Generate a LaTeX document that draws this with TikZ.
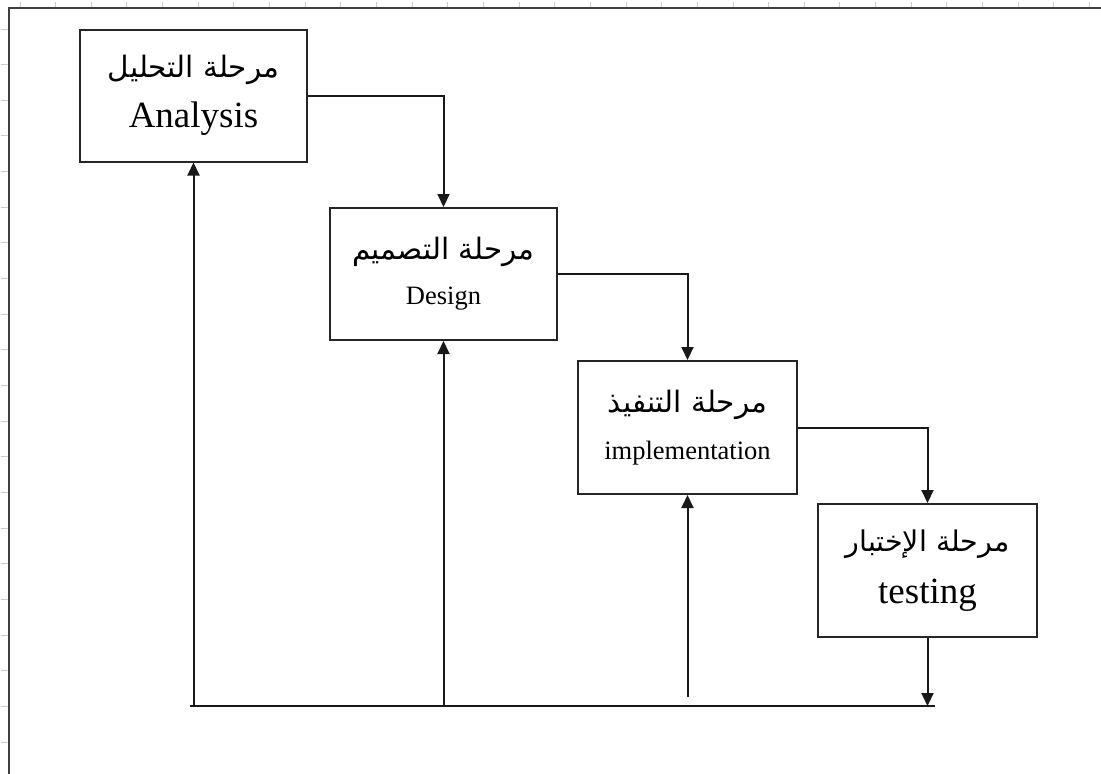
\documentclass[tikz,border=0pt]{standalone}
\usepackage{fontspec}
\setmainfont{Liberation Serif}
\newfontfamily\arabicfont[Script=Arabic]{DejaVu Sans}
\TeXXeTstate=1
\usetikzlibrary{arrows.meta}

\tikzset{
  phase/.style={draw=black!85, line width=2pt, minimum width=227pt, minimum height=132pt, inner sep=0pt, align=center},
  arr/.style={draw=black!90, line width=2pt, -{Triangle[length=13pt,width=12pt]}},
  link/.style={draw=black!90, line width=2pt},
  tick/.style={draw=gray!40, line width=1pt}
}

\begin{document}
\begin{tikzpicture}[x=1pt,y=-1pt]
            \useasboundingbox (0,0) rectangle (1101,774);

            % Ruler ticks and frame
            \foreach \i in {0,...,30}
              \draw[tick] ({20+35.65*\i},2) -- ++(0,6);
            \foreach \i in {0,...,20}
              \draw[tick] (1,{29+35.65*\i}) -- ++(7,0);
            \draw[draw=black!75, line width=2pt] (9,774) -- (9,8) -- (1101,8);

            % Phases
            \node[phase, font=\fontsize{37}{50}\selectfont] (analysis) at (193.5,95.5)
              {{\arabicfont\fontsize{29.5}{50}\selectfont\beginR مرحلة التحليل\endR}\\Analysis};
            \node[phase, font=\fontsize{26.5}{45}\selectfont] (design) at (443.5,274)
              {{\arabicfont\fontsize{29.5}{45}\selectfont\beginR مرحلة التصميم\endR}\\Design};
            \node[phase, minimum width=219pt, minimum height=133pt, font=\fontsize{26.5}{47}\selectfont] (impl) at (687.5,427.5)
              {{\arabicfont\fontsize{29.5}{47}\selectfont\beginR مرحلة التنفيذ\endR}\\implementation};
            \node[phase, minimum width=219pt, minimum height=133pt, font=\fontsize{37}{52}\selectfont] (testing) at (927.5,570.5)
              {{\arabicfont\fontsize{28.5}{52}\selectfont\beginR مرحلة الإختبار\endR}\\testing};

            % Bottom line
            \coordinate (base-l) at (190,706);
            \coordinate (base-r) at (935,706);
            \draw[link] (base-l) -- (base-r);

            % Forward arrows
            \draw[arr] (analysis.east) -| (design.north);
            \draw[arr] (design.east) -| (impl.north);
            \draw[arr] (impl.east) -| (testing.north);
            \draw[arr] (testing.south) -- (testing.south |- base-r);

            % Feedback arrows
            \draw[arr] (analysis.south |- base-l) -- (analysis.south);
            \draw[arr] (design.south |- base-l) -- (design.south);
            \draw[arr] ([yshift=9pt]impl.south |- base-l) -- (impl.south);
        \end{tikzpicture}
\end{document}
